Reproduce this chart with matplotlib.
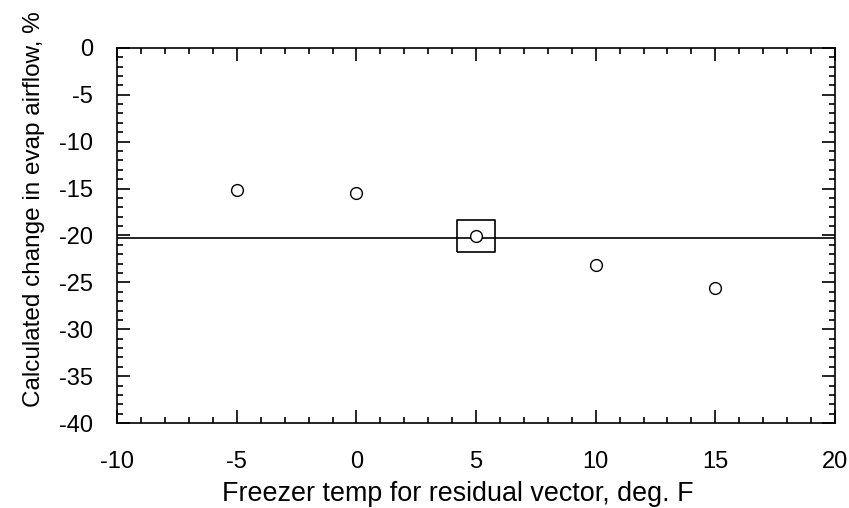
import matplotlib
matplotlib.use("Agg")
import matplotlib.pyplot as plt
from matplotlib.ticker import MultipleLocator

# freezer temperature used for each residual vector (deg F)
freezer_temp = [-5, 0, 5, 10, 15]
# calculated change in evaporator airflow (%)
airflow_change = [-15.2, -15.5, -20.1, -23.2, -25.6]
# selected case, highlighted with a box
selected_temp = [5]
selected_change = [-20.1]
# reference level drawn across the plot
reference_level = -20.3

plt.rcParams['font.family'] = ['Liberation Sans', 'DejaVu Sans']
plt.rcParams['axes.unicode_minus'] = False

fig = plt.figure(figsize=(8.49, 5.08), dpi=100)
ax = fig.add_axes([0.138, 0.167, 0.8455, 0.739])

ax.axhline(reference_level, color='black', linewidth=1.2)
ax.plot(freezer_temp, airflow_change, linestyle='none', marker='o',
        markersize=8.5, markerfacecolor='white', markeredgecolor='black',
        markeredgewidth=1.0)

# slightly wide box around the chosen point
box = [(-1, -0.87), (1, -0.87), (1, 0.87), (-1, 0.87), (-1, -0.87)]
ax.plot(selected_temp, selected_change, linestyle='none', marker=box,
        markersize=27, markerfacecolor='none', markeredgecolor='black',
        markeredgewidth=1.2)

ax.set_xlim(-10, 20)
ax.set_ylim(-40, 0)
ax.xaxis.set_major_locator(MultipleLocator(5))
ax.xaxis.set_minor_locator(MultipleLocator(1))
ax.yaxis.set_major_locator(MultipleLocator(5))
ax.yaxis.set_minor_locator(MultipleLocator(1))

ax.tick_params(which='both', direction='in', top=True, right=True, width=1.2)
ax.tick_params(which='major', length=9.5, labelsize=17)
ax.tick_params(axis='x', which='major', pad=20)
ax.tick_params(axis='y', which='major', pad=17.5)
ax.tick_params(which='minor', length=4.5)
for side in ax.spines.values():
    side.set_linewidth(1.2)

ax.set_xlabel('Freezer temp for residual vector, deg. F', fontsize=19.4)
ax.set_ylabel('Calculated change in evap airflow, %', fontsize=17.5)
ax.xaxis.set_label_coords(0.4746, -0.155)
ax.yaxis.set_label_coords(-0.101, 0.57)

fig.savefig('out.png', dpi=100)
